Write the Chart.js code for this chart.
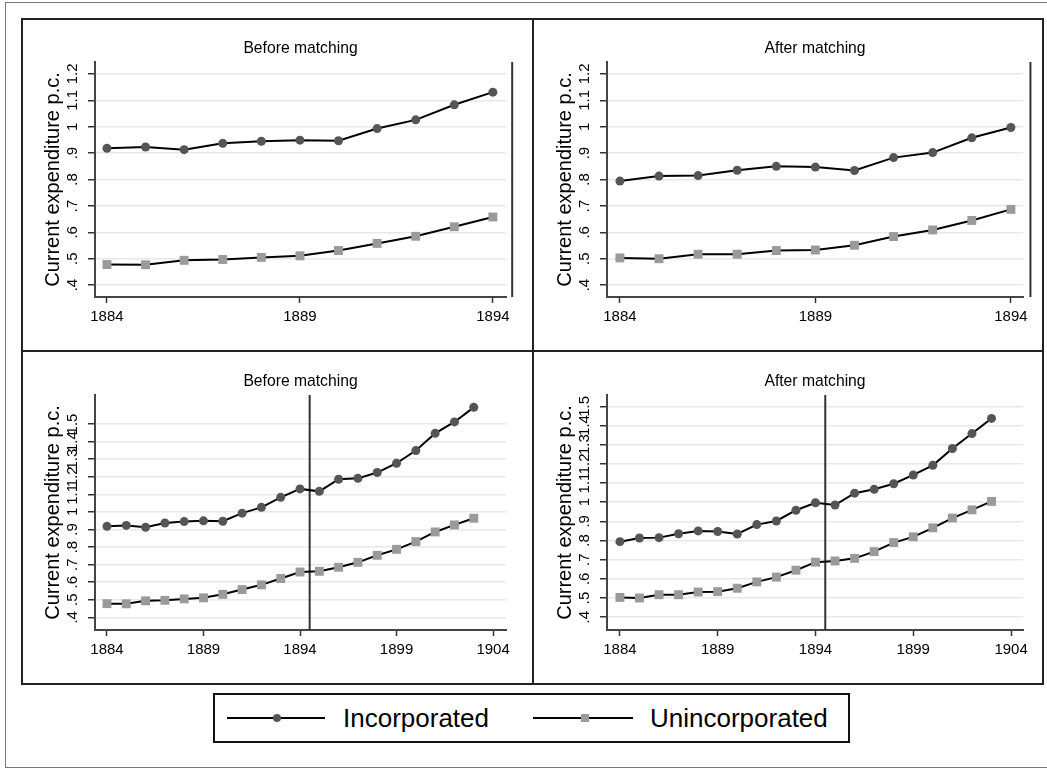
<!DOCTYPE html>
<html>
<head>
<meta charset="utf-8">
<script src="https://cdn.jsdelivr.net/npm/chart.js@4.4.1/dist/chart.umd.min.js"></script>
<style>
  body { margin: 0; background: #fff; font-family: "Liberation Sans", Arial, sans-serif; }
  #stage { position: relative; width: 1047px; height: 770px; overflow: hidden; }
  #frame { position: absolute; left: 5px; top: 2px; width: 1060px; height: 766px; border: 1px solid #777; box-sizing: border-box; }
  #panels { position: absolute; left: 21px; top: 18px; width: 1023px; height: 667px; border: 2px solid #222; box-sizing: border-box; }
  .vdiv { position: absolute; left: 532px; top: 18px; width: 2px; height: 667px; background: #222; }
  .hdiv { position: absolute; left: 21px; top: 350px; width: 1023px; height: 2px; background: #222; }
  canvas { position: absolute; }
  #legend { position: absolute; left: 213px; top: 693px; width: 637px; height: 50px; border: 2px solid #111; box-sizing: border-box; }
  #legend svg { position: absolute; left: 0; top: 0; }
  #legend span { position: absolute; top: 0; height: 46px; line-height: 46px; font-size: 26px; color: #000; white-space: nowrap; }
</style>
</head>
<body>
<div id="stage">
  <div id="frame"></div>
  <div id="panels"></div>
  <div class="vdiv"></div>
  <div class="hdiv"></div>
  <canvas id="beforeShort" width="509" height="330" style="left:23px; top:20px;"></canvas>
  <canvas id="afterShort" width="507" height="330" style="left:535px; top:20px;"></canvas>
  <canvas id="beforeLong" width="509" height="330" style="left:23px; top:353px;"></canvas>
  <canvas id="afterLong" width="507" height="330" style="left:535px; top:353px;"></canvas>
  <div id="legend">
    <svg width="633" height="46">
      <line x1="12" y1="23" x2="110" y2="23" stroke="#000" stroke-width="2"/>
      <circle cx="62" cy="23" r="4" fill="#555"/>
      <line x1="318" y1="23" x2="418" y2="23" stroke="#000" stroke-width="2"/>
      <rect x="366" y="19" width="8" height="8" fill="#9a9a9a"/>
    </svg>
    <span style="left:128px;">Incorporated</span>
    <span style="left:435px;">Unincorporated</span>
  </div>
</div>
<script>
const years = [1884, 1885, 1886, 1887, 1888, 1889, 1890, 1891, 1892, 1893,
               1894, 1895, 1896, 1897, 1898, 1899, 1900, 1901, 1902, 1903];

// Before matching
const beforeIncorporated = [0.918, 0.923, 0.913, 0.937, 0.945, 0.949, 0.947, 0.993, 1.026, 1.083,
                            1.131, 1.117, 1.186, 1.191, 1.224, 1.277, 1.349, 1.447, 1.512, 1.595];
const beforeUnincorporated = [0.478, 0.477, 0.494, 0.497, 0.505, 0.511, 0.531, 0.558, 0.585, 0.621,
                              0.658, 0.662, 0.685, 0.713, 0.753, 0.787, 0.831, 0.886, 0.926, 0.964];

// After matching
const afterIncorporated = [0.794, 0.813, 0.815, 0.835, 0.850, 0.847, 0.834, 0.883, 0.902, 0.958,
                           0.997, 0.985, 1.047, 1.067, 1.096, 1.142, 1.192, 1.280, 1.358, 1.437];
const afterUnincorporated = [0.503, 0.500, 0.517, 0.517, 0.531, 0.533, 0.551, 0.584, 0.609, 0.645,
                             0.687, 0.693, 0.707, 0.742, 0.789, 0.819, 0.866, 0.917, 0.960, 1.004];

const shortYTicks = [0.4, 0.5, 0.6, 0.7, 0.8, 0.9, 1.0, 1.1, 1.2];
const longYTicks = [0.4, 0.5, 0.6, 0.7, 0.8, 0.9, 1.0, 1.1, 1.2, 1.3, 1.4, 1.5];
const shortXTicks = [1884, 1889, 1894];
const longXTicks = [1884, 1889, 1894, 1899, 1904];

const breakYear = 1894.5;
const shortLength = 11; // top row stops at 1894

const FONT = '"Liberation Sans", Arial, sans-serif';
const INC_COLOR = '#555555';
const UNINC_COLOR = '#9a9a9a';

// Stata style: .4 instead of 0.4, 1 instead of 1.0
function fmtTick(v) {
  let s = (Math.round(v * 10) / 10).toString();
  if (s.startsWith('0.')) s = s.slice(1);
  return s;
}

function toPoints(values, n) {
  return values.slice(0, n).map((v, i) => ({ x: years[i], y: v }));
}

// rotated y tick labels + the vertical line at the break year
const stataAxisPlugin = {
  id: 'stataAxis',
  beforeDatasetsDraw(chart) {
    const ctx = chart.ctx;
    const { top, bottom } = chart.chartArea;
    const bx = chart.scales.x.getPixelForValue(breakYear);
    ctx.save();
    ctx.strokeStyle = '#333';
    ctx.lineWidth = 2;
    ctx.beginPath();
    ctx.moveTo(bx, top);
    ctx.lineTo(bx, bottom);
    ctx.stroke();
    ctx.restore();
  },
  afterDraw(chart) {
    const ctx = chart.ctx;
    const ys = chart.scales.y;
    ctx.save();
    ctx.font = '15px ' + FONT;
    ctx.fillStyle = '#000';
    ctx.textAlign = 'center';
    ctx.textBaseline = 'middle';
    ys.ticks.forEach(t => {
      ctx.save();
      ctx.translate(50, ys.getPixelForValue(t.value));
      ctx.rotate(-Math.PI / 2);
      ctx.fillText(fmtTick(t.value), 0, 0);
      ctx.restore();
    });
    ctx.restore();
  }
};

function makePanel(id, opts) {
  const ctx = document.getElementById(id);
  if (!ctx) return;

  return new Chart(ctx, {
    type: 'line',
    data: {
      datasets: [
        {
          label: 'Incorporated',
          data: toPoints(opts.inc, opts.n),
          borderColor: '#000',
          borderWidth: 2,
          pointStyle: 'circle',
          pointRadius: 4.5,
          pointBackgroundColor: INC_COLOR,
          pointBorderColor: INC_COLOR,
          pointBorderWidth: 0,
          tension: 0
        },
        {
          label: 'Unincorporated',
          data: toPoints(opts.uninc, opts.n),
          borderColor: '#000',
          borderWidth: 2,
          pointStyle: 'rect',
          pointRadius: 6.3,
          pointBackgroundColor: UNINC_COLOR,
          pointBorderColor: UNINC_COLOR,
          pointBorderWidth: 0,
          tension: 0
        }
      ]
    },
    options: {
      responsive: false,
      animation: false,
      devicePixelRatio: 1,
      layout: { padding: { left: 0, right: opts.padRight, top: 0, bottom: 0 } },
      plugins: {
        legend: { display: false },
        tooltip: { enabled: false },
        title: {
          display: true,
          text: opts.title,
          fullSize: false,
          color: '#000',
          font: { family: FONT, size: 15.7, weight: 'normal' },
          padding: { top: 19, bottom: 4.2 }
        }
      },
      scales: {
        x: {
          type: 'linear',
          min: opts.xMin,
          max: opts.xMax,
          afterBuildTicks: s => { s.ticks = opts.xTicks.map(v => ({ value: v })); },
          afterFit: s => { s.height = 53; },
          ticks: {
            callback: v => String(v),
            color: '#000',
            font: { family: FONT, size: 15 },
            padding: 5,
            maxRotation: 0,
            autoSkip: false
          },
          grid: { drawOnChartArea: false, tickLength: 6, tickColor: '#333', tickWidth: 1.5 },
          border: { color: '#444', width: 2 }
        },
        y: {
          min: opts.yMin,
          max: opts.yMax,
          afterBuildTicks: s => { s.ticks = opts.yTicks.map(v => ({ value: v })); },
          afterFit: s => { s.width = 72; },
          ticks: { display: false },
          title: {
            display: true,
            text: 'Current expenditure p.c.',
            color: '#000',
            font: { family: FONT, size: 20 },
            padding: { top: 18, bottom: 0 }
          },
          grid: { color: '#e8e8e8', lineWidth: 1.5, tickLength: 7, tickColor: '#333', tickWidth: 1.5 },
          border: { color: '#444', width: 2 }
        }
      }
    },
    plugins: [stataAxisPlugin]
  });
}

makePanel('beforeShort', {
  title: 'Before matching', inc: beforeIncorporated, uninc: beforeUnincorporated, n: shortLength,
  xMin: 1883.69, xMax: 1894.34, yMin: 0.355, yMax: 1.245,
  xTicks: shortXTicks, yTicks: shortYTicks, padRight: 26
});
makePanel('afterShort', {
  title: 'After matching', inc: afterIncorporated, uninc: afterUnincorporated, n: shortLength,
  xMin: 1883.67, xMax: 1894.31, yMin: 0.355, yMax: 1.245,
  xTicks: shortXTicks, yTicks: shortYTicks, padRight: 19
});
makePanel('beforeLong', {
  title: 'Before matching', inc: beforeIncorporated, uninc: beforeUnincorporated, n: years.length,
  xMin: 1883.38, xMax: 1904.67, yMin: 0.328, yMax: 1.665,
  xTicks: longXTicks, yTicks: longYTicks, padRight: 26
});
makePanel('afterLong', {
  title: 'After matching', inc: afterIncorporated, uninc: afterUnincorporated, n: years.length,
  xMin: 1883.34, xMax: 1904.61, yMin: 0.333, yMax: 1.559,
  xTicks: longXTicks, yTicks: longYTicks, padRight: 19
});
</script>
</body>
</html>
